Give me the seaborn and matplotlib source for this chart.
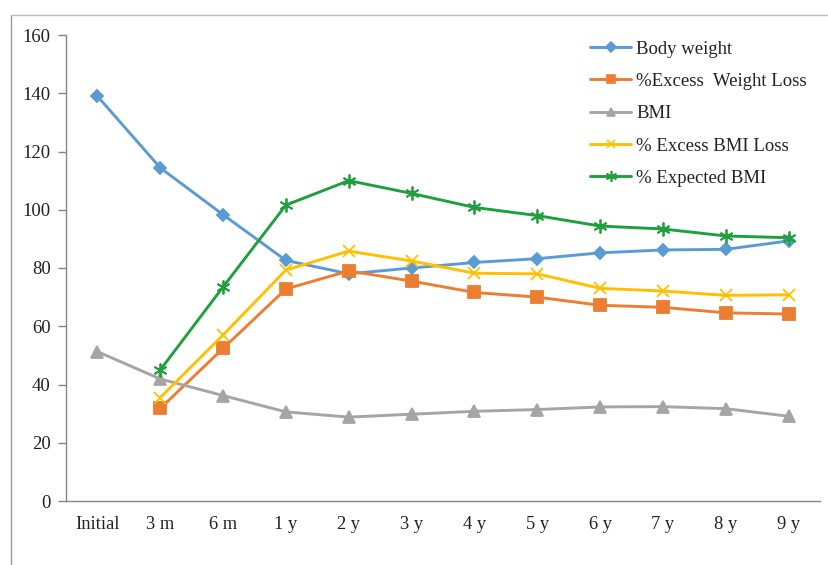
import numpy as np
import pandas as pd
import matplotlib
matplotlib.use("Agg")
import matplotlib.pyplot as plt
from matplotlib.lines import Line2D
import seaborn as sns

# Follow-up time points
periods = ["Initial", "3 m", "6 m", "1 y", "2 y", "3 y", "4 y", "5 y", "6 y", "7 y", "8 y", "9 y"]

body_weight = [139, 114.4, 98.3, 82.6, 78, 80, 81.9, 83.2, 85.2, 86.2, 86.4, 89.3]
excess_weight_loss = [np.nan, 31.8, 52.4, 72.8, 79, 75.5, 71.6, 70, 67.2, 66.5, 64.6, 64.2]
bmi = [51.3, 41.9, 36.2, 30.6, 28.8, 29.8, 30.8, 31.4, 32.3, 32.4, 31.7, 29.1]
excess_bmi_loss = [np.nan, 35.5, 57, 79.3, 85.8, 82.4, 78.2, 78, 73, 72.1, 70.6, 70.8]
expected_bmi = [np.nan, 45, 73.5, 101.6, 110, 105.6, 100.8, 98, 94.4, 93.4, 91, 90.4]

series_names = ["Body weight", "%Excess  Weight Loss", "BMI", "% Excess BMI Loss", "% Expected BMI"]
series_values = [body_weight, excess_weight_loss, bmi, excess_bmi_loss, expected_bmi]
colors = ["#5B9BD5", "#ED7D31", "#A5A5A5", "#FFC000", "#1FA03C"]
markers = ["D", "s", "^", "x", (6, 2, 0)]
marker_sizes = [6, 8, 8, 8, 10]

sns.set_theme(style="white")
plt.rcParams["font.family"] = ["Liberation Serif", "DejaVu Serif"]

fig = plt.figure(figsize=(8.29, 5.65), dpi=100)
ax = fig.add_axes([66 / 829, 1 - 501 / 565, (820 - 66) / 829, (501 - 35) / 565])

pos = np.arange(len(periods))
for name, vals, col, mk, ms in zip(series_names, series_values, colors, markers, marker_sizes):
    df = pd.DataFrame({"pos": pos, "value": vals}).dropna()
    sns.lineplot(data=df, x="pos", y="value", ax=ax, color=col, linewidth=2.1,
                 marker=mk, markersize=ms, markeredgecolor=col, markerfacecolor=col,
                 markeredgewidth=1.3, label=name, sort=False, legend=False)

ax.set_xlim(-0.5, len(periods) - 0.5)
ax.set_ylim(0, 160)
ax.set_yticks(np.arange(0, 161, 20))
ax.set_xticks(pos)
ax.set_xticklabels(periods)
ax.set_xticks(np.arange(-0.5, len(periods), 1.0), minor=True)
ax.set_xlabel("")
ax.set_ylabel("")

spine_col = "#868686"
for side in ["top", "right"]:
    ax.spines[side].set_visible(False)
for side in ["left", "bottom"]:
    ax.spines[side].set_color(spine_col)
    ax.spines[side].set_linewidth(1.0)

ax.tick_params(axis="x", which="major", length=0, pad=11, labelsize=13.3, labelcolor="#222222")
ax.tick_params(axis="x", which="minor", length=6, width=1.0, color=spine_col, direction="out")
ax.tick_params(axis="y", which="major", length=6, width=1.0, color=spine_col, direction="out",
               pad=5, labelsize=13.5, labelcolor="#222222", left=True)

handles = [Line2D([], [], color=c, linewidth=2.1, marker=m, markersize=s * 0.8,
                  markeredgecolor=c, markerfacecolor=c, markeredgewidth=1.2)
           for c, m, s in zip(colors, markers, marker_sizes)]
leg = ax.legend(handles, series_names, loc="upper left", bbox_to_anchor=(583 / 829, 1 - 33 / 565),
                bbox_transform=fig.transFigure, frameon=False, fontsize=13.5,
                labelspacing=0.81, handlelength=2.15, handletextpad=0.3, borderaxespad=0)
for t in leg.get_texts():
    t.set_color("#222222")

# Outer frame lines along the top and left of the figure
fig.add_artist(Line2D([11 / 829, 11 / 829], [0, 1 - 15 / 565], transform=fig.transFigure,
                      color="#9a9a9a", linewidth=1.0))
fig.add_artist(Line2D([11 / 829, 1], [1 - 15 / 565, 1 - 15 / 565], transform=fig.transFigure,
                      color="#bdbdbd", linewidth=1.0))

fig.savefig("out.png", dpi=100)
